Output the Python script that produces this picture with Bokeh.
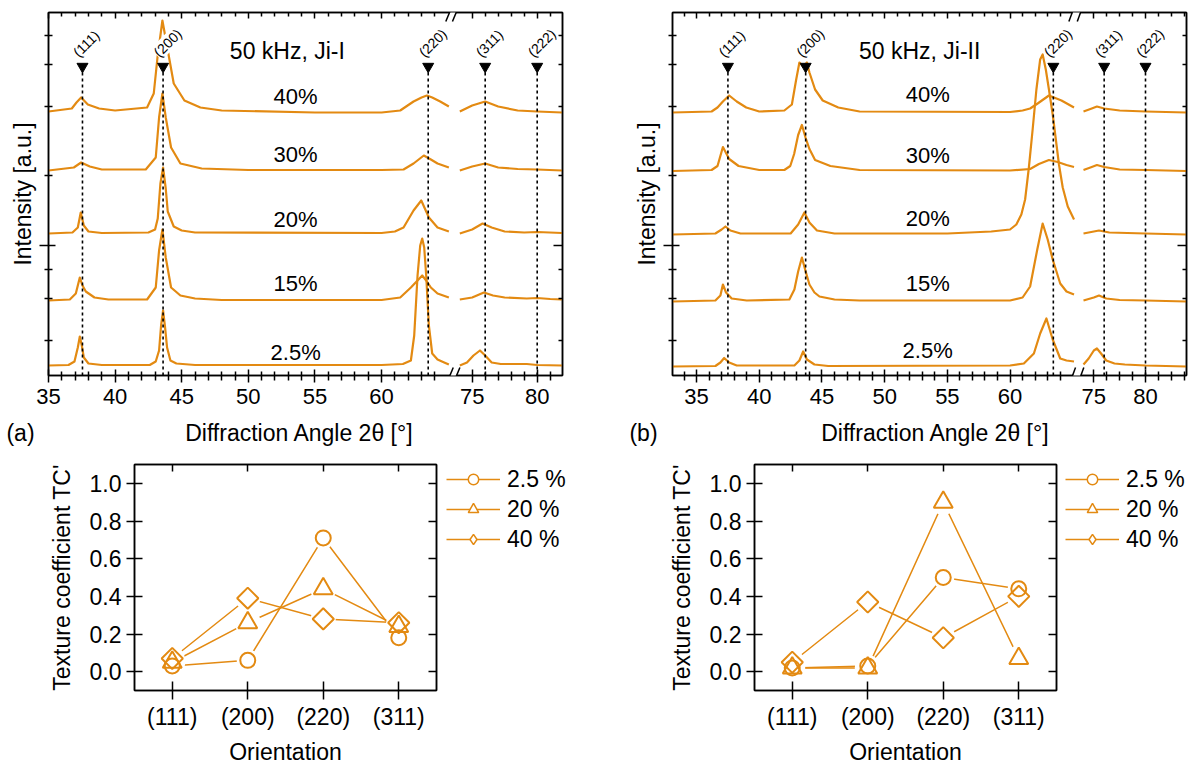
import math
from bokeh.plotting import figure
from bokeh.models import (FixedTicker, LinearAxis, Range1d, Label, Arrow, PolyAnnotation,
                          Legend, LegendItem, PrintfTickFormatter, CustomJSTickFormatter)
from bokeh.layouts import row, column
from bokeh.embed import file_html
from bokeh.resources import INLINE
from bokeh.core.properties import value

ORANGE = "#E38A12"
FONT = "Liberation Sans"

# ---------------- XRD data (angle in deg, intensity above the trace baseline, a.u.) -------------
xrd_labels = ["2.5%", "15%", "20%", "30%", "40%"]
peak_names = ["(111)", "(200)", "(220)", "(311)", "(222)"]
major_angles = [35, 40, 45, 50, 55, 60, 75, 80]
x_title = "Diffraction Angle 2θ [°]"

# panel (a)  50 kHz, Ji-I
a_offsets = [10, 75, 142, 205, 264]
a_peak_pos = [37.55, 43.6, 63.5, 76.0, 80.0]
a_025_ang = [35.0, 36.5, 36.95, 37.2, 37.35, 37.5, 37.65, 38.0, 39.0, 42.6, 43.05, 43.3, 43.45, 43.6, 43.75,
             43.9, 44.15, 44.6, 46.0, 60.0, 61.6, 62.2, 62.45, 62.7, 62.9, 63.05, 63.2, 63.35, 63.55, 63.8, 64.2,
             64.7, 65.05, 74.05, 74.6, 75.1, 75.6, 76.0, 76.5, 77.2, 79.2, 80.0, 81.9]
a_025_int = [0, 0.5, 4, 18, 29, 20, 8, 2, 0.5, 0.5, 4, 15, 40, 55, 38, 18, 5, 2, 0.5, 0.5, 1.5, 5, 30, 90, 120,
             127, 118, 90, 40, 12, 6, 3, 1, 0, 3, 10, 15, 10, 3, 1.5, 1.5, 0.5, 0]
a_15_ang = [35.0, 36.6, 37.05, 37.35, 37.55, 37.8, 38.45, 39.5, 42.4, 43.05, 43.3, 43.55, 43.8, 44.2, 44.9, 46.0,
            48.0, 60.0, 61.4, 62.2, 62.7, 63.05, 63.35, 63.7, 64.2, 65.05,
            74.05, 75.0, 75.9, 76.6, 77.5, 79.2, 80.0, 81.0, 81.9]
a_15_int = [0, 1, 7, 23, 15, 9, 3, 1, 1, 13, 50, 71, 43, 13, 5, 2, 0.5, 0.5, 3, 13, 20, 25, 20, 13, 7, 3,
            1, 3, 8, 5, 3, 2, 2.5, 1.5, 1]
a_20_ang = [35.0, 36.8, 37.2, 37.42, 37.65, 38.0, 39.0, 42.5, 43.0, 43.2, 43.4, 43.6, 43.8, 43.95, 44.4, 45.0,
            46.0, 60.0, 61.0, 61.65, 62.4, 62.98, 63.55, 64.2, 65.05,
            74.05, 75.0, 75.8, 76.5, 77.5, 79.0, 80.0, 81.9]
a_20_int = [0, 1, 6, 21, 8, 2, 0.5, 1, 4, 15, 50, 66, 45, 22, 7, 3, 1, 0.5, 2, 6, 23, 33, 16, 6, 2,
            0, 4, 10, 6, 2, 1, 1.5, 0.5]
a_30_ang = [35.0, 36.9, 37.45, 38.1, 39.0, 42.3, 43.05, 43.3, 43.55, 43.8, 44.2, 44.9, 46.5, 50.0, 60.0, 61.65,
            62.4, 63.17, 63.7, 64.2, 65.05, 74.05, 75.0, 76.0, 77.0, 78.5, 80.0, 81.9]
a_30_int = [0, 3, 8, 4, 1, 1, 13, 53, 77, 53, 23, 7, 2, 0.5, 0.5, 1, 7, 15, 11, 7, 3,
            0, 4, 7, 3, 1.5, 1, 0]
a_40_ang = [35.0, 36.75, 37.1, 37.45, 37.95, 38.8, 40.0, 42.4, 42.9, 43.18, 43.55, 44.05, 44.4, 45.2, 46.4, 48.0,
            55.0, 60.0, 61.4, 62.4, 63.0, 63.4, 63.8, 64.4, 65.05, 74.05, 75.0, 76.0, 77.0, 78.5, 80.0, 81.9]
a_40_int = [0, 3, 9, 14, 7, 3, 1, 4, 18, 54, 91, 54, 28, 11, 4, 1, -1, -1, 1, 10, 14, 16, 14, 10, 5,
            0, 6, 10, 5, 1, 0, -1]

# panel (b)  50 kHz, Ji-II
b_offsets = [9, 74, 141, 204.5, 263]
b_peak_pos = [37.5, 43.7, 63.45, 76.0, 80.0]
b_025_ang = [33.08, 36.5, 36.9, 37.2, 37.6, 38.2, 42.8, 43.2, 43.5, 43.8, 44.4, 45.5, 60.0, 61.1, 61.9, 62.4,
             62.9, 63.4, 64.0, 64.5, 65.1, 74.0, 74.5, 75.0, 75.3, 75.7, 76.2, 77.0, 78.0, 80.0, 83.95]
b_025_int = [0, 0.5, 4, 8.5, 4, 1, 1, 6, 15, 7, 2, 0.5, 1, 3, 13, 33, 48, 27, 8, 6, 5,
             2, 8, 16, 18, 13, 6, 3, 2, 1, 0]
b_15_ang = [33.08, 36.5, 36.9, 37.1, 37.35, 37.8, 39.0, 42.4, 42.8, 43.1, 43.4, 43.7, 44.0, 44.4, 44.8, 46.0,
            48.0, 60.0, 61.0, 61.6, 62.17, 62.6, 63.0, 63.4, 64.0, 64.5, 65.1,
            74.0, 75.0, 75.5, 76.2, 77.5, 80.0, 83.95]
b_15_int = [0, 1, 6, 17, 9, 3, 1, 2, 12, 30, 44, 30, 17, 9, 5, 2, 1, 1, 4, 15, 52, 78, 62, 42, 18, 10, 7,
            1, 4, 6, 3, 1.5, 1, 0]
b_20_ang = [33.08, 36.5, 37.0, 37.3, 37.7, 38.5, 42.5, 43.1, 43.6, 44.0, 44.6, 46.0, 55.0, 58.5, 60.0, 60.5,
            60.9, 61.2, 61.5, 61.8, 62.1, 62.4, 62.6, 62.85, 63.1, 63.4, 63.6, 63.9, 64.2, 64.6, 65.1,
            74.0, 75.0, 75.5, 76.5, 80.0, 83.95]
b_20_int = [0, 1, 5, 8, 4, 1, 1, 10, 22, 12, 4, 1, 1, 3, 5, 10, 20, 35, 67, 105, 145, 175, 180, 165, 145, 120,
            100, 70, 47, 28, 15, 1, 3, 4, 2, 1, 0]
b_30_ang = [33.08, 36.2, 36.67, 37.1, 37.6, 38.35, 40.0, 42.0, 42.47, 42.78, 43.1, 43.4, 43.7, 44.0, 44.45,
            45.67, 48.0, 60.0, 61.6, 62.3, 63.1, 63.8, 64.5, 65.1, 74.0, 74.8, 75.3, 76.0, 77.5, 80.0, 83.95]
b_30_int = [0, 1, 5, 24, 12, 5, 1, 1, 5, 17, 36, 46, 33, 22, 11, 5, 1, 0.5, 2, 7, 11, 9, 6, 4,
            1, 4, 6, 4, 1.5, 1, 0]
b_40_ang = [33.08, 36.2, 36.67, 37.1, 37.6, 38.2, 38.96, 40.0, 42.0, 42.6, 42.93, 43.2, 43.5, 43.8, 44.0, 44.45,
            45.06, 46.3, 48.0, 60.0, 61.0, 61.6, 62.2, 63.1, 64.1, 65.1, 74.0, 74.8, 75.3, 76.0, 77.5, 80.0, 83.95]
b_40_int = [0, 1, 5, 11, 17, 11, 5, 1, 2, 8, 32, 50, 46, 50, 40, 23, 12, 5, 1, 0.5, 2, 4, 9, 17, 12, 5,
            1, 4, 6, 4, 2, 1, 0]

# ---------------- Texture coefficient data -------------
tc_categories = ["(111)", "(200)", "(220)", "(311)"]
tc_series = ["2.5 %", "20 %", "40 %"]
tc_a_025 = [0.03, 0.06, 0.71, 0.18]
tc_a_20 = [0.05, 0.26, 0.44, 0.24]
tc_a_40 = [0.07, 0.39, 0.28, 0.26]
tc_b_025 = [0.02, 0.03, 0.50, 0.44]
tc_b_20 = [0.02, 0.02, 0.90, 0.07]
tc_b_40 = [0.05, 0.37, 0.18, 0.40]

BLANK = CustomJSTickFormatter(code="return '';")


def style_axis(ax, tin, tout, min_in, min_out, font_px="22px"):
    ax.axis_line_color = "black"
    ax.axis_line_width = 1.5
    ax.major_tick_line_color = "black"
    ax.minor_tick_line_color = "black"
    ax.major_tick_line_width = 1.5
    ax.minor_tick_line_width = 1.5
    ax.major_tick_in = tin
    ax.major_tick_out = tout
    ax.minor_tick_in = min_in
    ax.minor_tick_out = min_out
    ax.major_label_text_font = FONT
    ax.major_label_text_font_size = font_px
    ax.major_label_text_color = "black"
    ax.axis_label_text_font = FONT
    ax.axis_label_text_font_style = "normal"
    ax.axis_label_text_color = "black"


def blank_fig(w, h, x0=0):
    f = figure(width=w, height=h, x_range=Range1d(x0, x0 + w), y_range=Range1d(0, h),
               x_axis_type=None, y_axis_type=None, output_backend="svg", toolbar_location=None,
               min_border=0, outline_line_color=None)
    f.grid.visible = False
    return f


def xrd_panel(traces, offsets, peak_pos, title, r75, k, x0, x1, minor_l, minor_r,
              fig_w, bl, br, pct_x, pct_y, title_x, brk):
    def sx(a):
        return a if a < 70 else r75 + (a - 75.0) * k

    p = figure(width=fig_w, height=416, x_range=Range1d(x0, x1), y_range=Range1d(0, 363),
               output_backend="svg", toolbar_location=None,
               min_border_left=bl, min_border_right=br, min_border_top=12, min_border_bottom=41)
    p.grid.visible = False
    p.outline_line_color = "black"
    p.outline_line_width = 1.5

    xt = FixedTicker(ticks=[round(sx(a), 4) for a in major_angles],
                     minor_ticks=[round(sx(a), 4) for a in minor_l + minor_r])
    fmt = CustomJSTickFormatter(args=dict(r75=r75, k=k),
                                code="return tick < 65.5 ? tick.toFixed(0) : (75 + (tick - r75) / k).toFixed(0);")
    yt = FixedTicker(ticks=[130], minor_ticks=[35, 77, 106, 200, 269, 311, 340])

    xa = p.xaxis[0]
    xa.ticker = xt
    xa.formatter = fmt
    style_axis(xa, 6, 7, 4, 5, "22px")
    xa.major_label_standoff = 6

    ya = p.yaxis[0]
    ya.ticker = yt
    ya.formatter = BLANK
    style_axis(ya, 7, 9, 4, 4, "22px")
    ya.major_label_standoff = 0
    ya.axis_label = "Intensity [a.u.]"
    ya.axis_label_text_font_size = "23px"
    ya.axis_label_standoff = 4

    ta = LinearAxis(ticker=xt, formatter=BLANK)
    style_axis(ta, 6, 0, 4, 0, "22px")
    ta.major_label_standoff = 0
    p.add_layout(ta, "above")
    ra = LinearAxis(ticker=yt, formatter=BLANK)
    style_axis(ra, 9, 0, 4, 0, "22px")
    ra.major_label_standoff = 0
    p.add_layout(ra, "right")

    # traces
    for (ang, inten), off in zip(traces, offsets):
        lx = [sx(a) for a in ang if a < 70]
        ly = [v + off for a, v in zip(ang, inten) if a < 70]
        rx = [sx(a) for a in ang if a >= 70]
        ry = [v + off for a, v in zip(ang, inten) if a >= 70]
        p.line(lx, ly, line_color=ORANGE, line_width=2.2, line_join="round")
        p.line(rx, ry, line_color=ORANGE, line_width=2.2, line_join="round")

    # reference peak markers
    pp = [sx(a) for a in peak_pos]
    p.segment(x0=pp, y0=[0] * len(pp), x1=pp, y1=[303] * len(pp),
              line_color="black", line_width=1.6, line_dash="3 3")
    p.scatter(x=pp, y=[309] * len(pp), marker="inverted_triangle", size=11,
              fill_color="black", line_color="black")
    for name, x in zip(peak_names, pp):
        p.add_layout(Label(x=x, y=309, text=name, angle=45, angle_units="deg", x_offset=-7, y_offset=12,
                           text_font=FONT, text_font_size="14px", text_align="left", text_color="black",
                           text_baseline="middle", background_fill_color="white"))

    p.text(x=[pct_x] * len(xrd_labels), y=pct_y, text=xrd_labels, text_font=value(FONT),
           text_font_size="22px", text_align="center", text_baseline="middle", text_color="black")
    p.text(x=[title_x], y=[325], text=[title], text_font=value(FONT), text_font_size="23px",
           text_align="center", text_baseline="middle", text_color="black")

    # axis break marks
    (s1l, s1u), (s2l, s2u) = brk
    for ylo, yhi in [(-10, 8), (354, 372)]:
        p.add_layout(PolyAnnotation(xs=[s1l + 0.05, s2l - 0.05, s2u - 0.05, s1u + 0.05],
                                    ys=[ylo, ylo, yhi, yhi], fill_color="white", fill_alpha=1,
                                    line_alpha=0, level="overlay"))
        for xl, xu in brk:
            p.add_layout(Arrow(x_start=xl, y_start=ylo, x_end=xu, y_end=yhi, end=None,
                               line_color="black", line_width=1.5, level="overlay"))
    return p


def caption(w, letter, letter_x, title_x):
    f = blank_fig(w, 34)
    f.text(x=[letter_x, title_x], y=[18, 18], text=[letter, x_title], text_font=value(FONT),
           text_font_size="23px", text_align="center", text_baseline="middle", text_color="black")
    return f


left_minor_a = [a for a in range(36, 65) if a % 5 != 0]
left_minor_b = [34] + [a for a in range(36, 65) if a % 5 != 0]

pa = xrd_panel([(a_025_ang, a_025_int), (a_15_ang, a_15_int), (a_20_ang, a_20_int),
                (a_30_ang, a_30_int), (a_40_ang, a_40_int)],
               a_offsets, a_peak_pos, "50 kHz, Ji-I", 66.8, 0.976, 35.0, 73.58,
               left_minor_a, [76, 77, 78, 79, 81], 600, 48, 38,
               53.55, [23.3, 91.7, 155.7, 221, 279], 52.93,
               [(64.82, 65.38), (65.32, 65.88)])
pb = xrd_panel([(b_025_ang, b_025_int), (b_15_ang, b_15_int), (b_20_ang, b_20_int),
                (b_30_ang, b_30_int), (b_40_ang, b_40_int)],
               b_offsets, b_peak_pos, "50 kHz, Ji-II", 66.68, 0.824, 33.08, 74.07,
               left_minor_b, [76.25, 77.5, 78.75, 81.25, 82.5, 83.75], 601, 72, 15,
               53.43, [25, 91.7, 156.7, 220, 280.7], 52.79,
               [(64.69, 65.22), (65.36, 65.88)])
cap_a = caption(600, "(a)", 20, 299)
cap_b = caption(601, "(b)", 43, 335)


MARKERS = [("circle", 15, 0.0, 22), ("triangle", 19, 0.0, 26), ("square", 15, math.pi / 4, 25)]
LEGEND_MARKERS = ["circle", "triangle", "diamond"]


def tc_panel(series, fig_w, bl):
    p = figure(width=fig_w, height=317, x_range=Range1d(-0.5, 3.5), y_range=Range1d(-0.1, 1.1),
               output_backend="svg", toolbar_location=None,
               min_border_left=bl, min_border_right=4, min_border_top=14, min_border_bottom=75)
    p.grid.visible = False
    p.outline_line_color = "black"
    p.outline_line_width = 1.5

    xt = FixedTicker(ticks=[0, 1, 2, 3], minor_ticks=[])
    yt = FixedTicker(ticks=[0, 0.2, 0.4, 0.6, 0.8, 1.0], minor_ticks=[])
    xfmt = CustomJSTickFormatter(args=dict(labels=tc_categories), code="return labels[Math.round(tick)];")

    xa = p.xaxis[0]
    xa.ticker = xt
    xa.formatter = xfmt
    style_axis(xa, 9, 9, 0, 0, "23px")
    xa.major_label_standoff = 4
    xa.axis_label = "Orientation"
    xa.axis_label_text_font_size = "23px"
    xa.axis_label_standoff = 6

    ya = p.yaxis[0]
    ya.ticker = yt
    ya.formatter = PrintfTickFormatter(format="%.1f")
    style_axis(ya, 8, 8, 0, 0, "23px")
    ya.major_label_standoff = 5
    ya.axis_label = "Texture coefficient TC'"
    ya.axis_label_text_font_size = "23px"
    ya.axis_label_standoff = 12

    ta = LinearAxis(ticker=xt, formatter=BLANK)
    style_axis(ta, 7, 0, 0, 0, "22px")
    ta.major_label_standoff = 0
    p.add_layout(ta, "above")
    ra = LinearAxis(ticker=yt, formatter=BLANK)
    style_axis(ra, 8, 0, 0, 0, "22px")
    ra.major_label_standoff = 0
    p.add_layout(ra, "right")

    xs = list(range(len(tc_categories)))
    for vals in series:
        p.line(xs, vals, line_color=ORANGE, line_width=1.5)
    for vals, (mk, sz, ang, halo) in zip(series, MARKERS):
        p.scatter(xs, vals, marker="circle", size=halo, fill_color="white", line_color=None)
    for vals, (mk, sz, ang, halo) in zip(series, MARKERS):
        p.scatter(xs, vals, marker=mk, size=sz, angle=ang, fill_color=None,
                  line_color=ORANGE, line_width=2)
    return p


def legend_fig(w, x_loc, series):
    # legend-only panel: its renderers hold the series, kept outside the visible x range
    f = blank_fig(w, 317, x0=1000)
    xs = list(range(len(tc_categories)))
    items = []
    for name, vals, mk in zip(tc_series, series, LEGEND_MARKERS):
        r1 = f.line(xs, vals, line_color=ORANGE, line_width=1.5)
        r2 = f.scatter(xs, vals, marker=mk, size=10, fill_color="white",
                       line_color=ORANGE, line_width=1.5)
        items.append(LegendItem(label=name, renderers=[r1, r2]))
    leg = Legend(items=items, location=(x_loc, 136), glyph_width=54, glyph_height=26,
                 label_height=30, spacing=0, padding=0, margin=0, label_standoff=7,
                 border_line_alpha=0, background_fill_alpha=0,
                 label_text_font=FONT, label_text_font_size="23px", label_text_color="black")
    f.add_layout(leg)
    return f


pc = tc_panel([tc_a_025, tc_a_20, tc_a_40], 440, 134)
lc = legend_fig(160, 6, [tc_a_025, tc_a_20, tc_a_40])
pd_ = tc_panel([tc_b_025, tc_b_20, tc_b_40], 460, 154)
ld = legend_fig(141, 5, [tc_b_025, tc_b_20, tc_b_40])

layout = column(row(pa, pb), row(cap_a, cap_b), row(pc, lc, pd_, ld))
open("out.html", "w").write(file_html(layout, INLINE))
